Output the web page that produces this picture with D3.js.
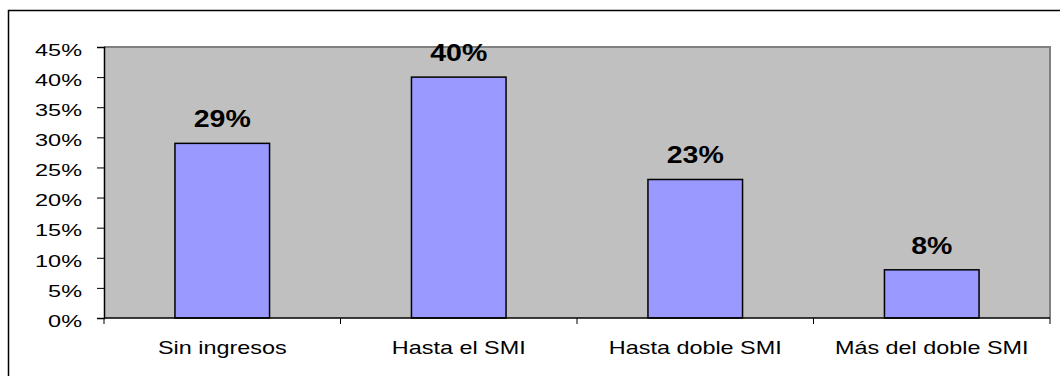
<!DOCTYPE html>
<html>
<head>
<meta charset="utf-8">
<script src="https://cdn.jsdelivr.net/npm/d3@7"></script>
<style>
html,body{margin:0;padding:0;background:#fff;}
svg{display:block;}
text{font-family:"Liberation Sans",Arial,sans-serif;fill:#000;}
</style>
</head>
<body>
<svg id="chart" width="1060" height="376"></svg>
<script>
const categories = ["Sin ingresos", "Hasta el SMI", "Hasta doble SMI", "Más del doble SMI"];
const values = [29, 40, 23, 8];
const labels = ["29%", "40%", "23%", "8%"];
const yTicks = [0, 5, 10, 15, 20, 25, 30, 35, 40, 45];

const svg = d3.select("#chart");
const plot = {left: 104, right: 1050, top: 47, bottom: 318};

// outer frame
svg.append("rect").attr("x", 8.5).attr("y", 10.5).attr("width", 1060).attr("height", 400)
  .attr("fill", "#fff").attr("stroke", "#000").attr("stroke-width", 1.5);

const x = d3.scaleBand().domain(categories).range([plot.left, plot.right])
  .paddingInner(0.6).paddingOuter(0.3);
const y = d3.scaleLinear().domain([0, 45]).range([plot.bottom, plot.top]);

// plot area
svg.append("rect").attr("x", plot.left).attr("y", plot.top)
  .attr("width", plot.right - plot.left).attr("height", plot.bottom - plot.top)
  .attr("fill", "#c0c0c0");
svg.append("path")
  .attr("d", `M${plot.left},${plot.top}H${plot.right}V${plot.bottom}`)
  .attr("fill", "none").attr("stroke", "#808080").attr("stroke-width", 2);

// bars
svg.selectAll("rect.bar").data(values).enter().append("rect")
  .attr("class", "bar")
  .attr("x", (d, i) => x(categories[i]))
  .attr("y", d => y(d))
  .attr("width", x.bandwidth())
  .attr("height", d => y(0) - y(d))
  .attr("fill", "#9999ff").attr("stroke", "#000").attr("stroke-width", 1.5);

// data labels
svg.selectAll("text.dl").data(values).enter().append("text")
  .attr("class", "dl")
  .attr("transform", (d, i) => `translate(${x(categories[i]) + x.bandwidth() / 2},${y(d) - 16}) scale(1.24,1)`)
  .attr("text-anchor", "middle")
  .attr("font-size", 23).attr("font-weight", "bold")
  .text((d, i) => labels[i]);

// y axis
const yAxis = svg.append("g").attr("transform", `translate(${plot.left},0)`)
  .call(d3.axisLeft(y).tickValues(yTicks).tickSize(7).tickFormat(d => d + "%"));
yAxis.select(".domain").attr("stroke", "#000").attr("stroke-width", 1.5);
yAxis.selectAll(".tick line").attr("stroke", "#000").attr("stroke-width", 1);
yAxis.selectAll(".tick text").attr("font-size", 17).attr("font-family", "Liberation Sans, Arial, sans-serif")
  .attr("x", null).attr("dy", null)
  .attr("dominant-baseline", "central")
  .attr("transform", "translate(-22,2) scale(1.38,1)");

// x axis
const xg = svg.append("g").attr("transform", `translate(0,${plot.bottom})`);
xg.append("line").attr("x1", plot.left).attr("x2", plot.right).attr("y1", 0).attr("y2", 0)
  .attr("stroke", "#000").attr("stroke-width", 1.5);
const bounds = categories.map(c => x(c) - x.step() * x.paddingInner() / 2);
bounds[0] = plot.left;
bounds.push(plot.right);
xg.selectAll("line.xt").data(bounds).enter().append("line")
  .attr("class", "xt")
  .attr("x1", d => d).attr("x2", d => d).attr("y1", 0).attr("y2", 6)
  .attr("stroke", "#000").attr("stroke-width", 1);
xg.selectAll("text.cat").data(categories).enter().append("text")
  .attr("class", "cat")
  .attr("transform", d => `translate(${x(d) + x.bandwidth() / 2},36) scale(1.3,1)`)
  .attr("text-anchor", "middle")
  .attr("font-size", 18)
  .text(d => d);
</script>
</body>
</html>
